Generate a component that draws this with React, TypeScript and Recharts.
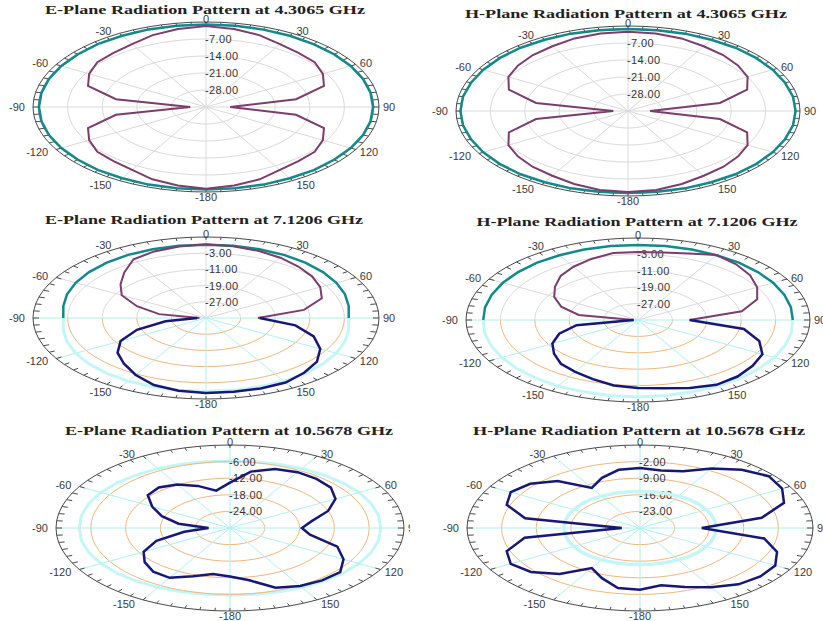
import React from 'react';
import { ScatterChart, Scatter, XAxis, YAxis } from 'recharts';

// angles in degrees, clockwise from the top (0 = boresight)
const ANGLES = [0, 10, 20, 30, 40, 50, 60, 70, 80, 90, 100, 110, 120, 130, 140, 150, 160, 170,
  180, 190, 200, 210, 220, 230, 240, 250, 260, 270, 280, 290, 300, 310, 320, 330, 340, 350];
const UPPER_ANGLES = [-90, -80, -70, -60, -50, -40, -30, -20, -10, 0, 10, 20, 30, 40, 50, 60, 70, 80, 90];
const LOWER_ANGLES = [90, 100, 110, 120, 130, 140, 150, 160, 170, 180, 190, 200, 210, 220, 230, 240, 250, 260, 270];
const ANGLE_TICKS = [0, 30, 60, 90, 120, 150, -180, -150, -120, -90, -60, -30];

// gain in dB
const E43_TEAL = [-1.0, -1.0, -1.1, -1.1, -1.2, -1.2, -1.2, -1.2, -1.2, -1.2, -1.2, -1.2, -1.2, -1.2, -1.1, -1.1, -1.0, -1.0,
  -1.0, -1.0, -1.0, -1.1, -1.1, -1.2, -1.2, -1.2, -1.2, -1.2, -1.2, -1.2, -1.2, -1.2, -1.1, -1.1, -1.0, -1.0];
const E43_PURPLE = [-1.7, -2.4, -3.5, -5.1, -5.9, -6.3, -7.7, -9.6, -16.5, -30.1, -16.5, -9.6, -7.7, -6.3, -5.9, -5.1, -3.3, -2.2,
  -1.3, -2.2, -3.3, -5.1, -5.9, -6.3, -7.7, -9.6, -16.5, -31.8, -16.5, -9.6, -7.7, -6.3, -5.9, -5.1, -3.5, -2.4];
const H43_TEAL = [-1.2, -1.2, -1.1, -1.1, -1.0, -1.0, -1.0, -1.0, -0.9, -0.9, -0.9, -1.0, -1.0, -1.0, -1.0, -1.1, -1.1, -1.2,
  -1.2, -1.2, -1.1, -1.1, -1.0, -1.0, -1.0, -1.0, -0.9, -0.9, -0.9, -1.0, -1.0, -1.0, -1.0, -1.1, -1.1, -1.2];
const H43_PURPLE = [-2.4, -2.6, -3.2, -4.2, -4.9, -5.8, -6.9, -9.2, -16.0, -30.5, -16.0, -9.2, -6.9, -5.8, -4.9, -4.2, -3.0, -2.0,
  -1.6, -2.0, -3.0, -4.2, -4.9, -5.8, -6.9, -9.2, -16.0, -32.0, -16.0, -9.2, -6.9, -5.8, -4.9, -4.2, -3.2, -2.6];

const E71_TEAL = [-2.0, -1.5, -0.8, -0.2, 0.3, 0.7, 1.0, 1.1, 1.2, 1.2, 1.2, 1.1, 1.0, 0.7, 0.3, -0.2, -0.8, -1.5, -2.0];
const E71_PURPLE = [-33.5, -24, -18, -12.5, -9.2, -5.6, -1.5, 0, 0.8, 1.4, 1.0, 0.3, -0.6, -1.8, -3.0, -4.5, -6.5, -12, -23];
const E71_CYAN = [-2.0, -1.5, -0.8, -0.2, 0.3, 0.7, 1.0, 1.1, 1.2, 1.2, 1.2, 1.1, 1.0, 0.7, 0.3, -0.2, -0.8, -1.5, -2.0];
const E71_NAVY = [-22.6, -14, -8.5, -4.5, -1.5, 0.3, 1.8, 2.0, 2.0, 2.0, 1.5, 0.2, -2.5, -5.5, -8.3, -12.2, -18, -25.5, -33];

const H71_TEAL = [1.0, 1.1, 1.2, 1.3, 1.4, 1.5, 1.5, 1.6, 1.6, 1.6, 1.6, 1.6, 1.5, 1.5, 1.4, 1.3, 1.2, 1.1, 1.0];
const H71_PURPLE = [-34, -21, -16, -12.5, -9.8, -7, -5, -3.3, -1.8, -1.8, -1.6, -0.5, 1.6, 0.5, -1, -3, -5.5, -10.5, -23];
const H71_CYAN = [1.0, 1.2, 1.4, 1.6, 1.8, 2.0, 2.2, 2.3, 2.4, 2.5, 2.4, 2.3, 2.2, 2.0, 1.8, 1.6, 1.4, 1.2, 1.0];
const H71_NAVY = [-23, -10, -5, -1.6, -0.2, 1.0, 1.5, 0.3, -1.2, -1.8, -2.6, -4.3, -5.8, -7.1, -9.5, -12, -15.5, -20.5, -34];

const E105_CYAN = [-5.8, -5.7, -5.5, -5.2, -4.9, -4.6, -4.3, -4.1, -4.0, -4.0, -4.0, -4.1, -4.3, -4.6, -4.9, -5.2, -5.5, -5.7,
  -5.8, -5.7, -5.5, -5.2, -4.9, -4.6, -4.3, -4.1, -4.0, -4.0, -4.0, -4.1, -4.3, -4.6, -4.9, -5.2, -5.5, -5.7];
const E105_NAVY = [-13.6, -9.3, -7.3, -6.7, -6.8, -7.3, -9.0, -12.0, -15.7, -17.6, -16.0, -10.3, -7.4, -5.2, -5.3, -5.8, -7.0, -10.8,
  -12.5, -13.1, -11.4, -9.2, -9.4, -10.8, -12.8, -16.5, -22.0, -26.3, -21.0, -17.5, -14.5, -11.5, -10.9, -11.8, -13.8, -16.3];
const H105_CYAN = [-14.6, -14.6, -14.5, -14.5, -14.4, -14.4, -14.5, -14.5, -14.6, -14.6, -14.6, -14.5, -14.5, -14.4, -14.4, -14.5, -14.5, -14.6,
  -14.6, -14.6, -14.5, -14.5, -14.4, -14.4, -14.5, -14.5, -14.6, -14.6, -14.6, -14.5, -14.5, -14.4, -14.4, -14.5, -14.5, -14.6];
const H105_NAVY = [-4.7, -5.4, -4.5, -1.0, 2.0, 4.0, 3.2, 1.0, -5.0, -17.5, -4.5, -0.5, 1.6, 1.8, 1.0, -1.2, -3.5, -5.5,
  -4.0, -4.3, -7.5, -10.5, -4.7, -1.2, 0.2, -1.3, -6.3, -26.3, -6.4, -1.3, 0.2, -1.0, -4.1, -10.5, -7.5, -5.1];

const RINGS_43 = [-7, -14, -21, -28];
const RINGS_71 = [-3, -11, -19, -27];
const RINGS_E105 = [-6, -12, -18, -24];
const RINGS_H105 = [-2, -9, -16, -23];

const TEAL = '#12898a';
const PURPLE = '#7c3d6c';
const NAVY = '#171777';
const LIGHT_CYAN = '#c4f6f6';
const GREY = '#dadada';
const ORANGE = '#f0b67c';
const CYAN = '#b0f0f0';
const AXIS = '#4a4a4a';

const FONT = '"Liberation Sans", Arial, sans-serif';

type Series = { angles: number[]; values: number[]; color: string; width: number; closed: boolean; under?: boolean };
type PanelSpec = {
  left: number; top: number; width: number; height: number;
  cx: number; cy: number; rx: number; ry: number;
  min: number; max: number; rings: number[];
  upper: { ring: string; spoke: string }; lower: { ring: string; spoke: string };
  band: boolean; series: Series[];
};

const toRad = (d: number) => (d * Math.PI) / 180;

function arc(r: number, from: number, to: number) {
  const pts = [];
  for (let a = from; a <= to; a += 5) pts.push({ x: r * Math.sin(toRad(a)), y: r * Math.cos(toRad(a)), angle: a });
  return pts;
}

function polar(s: Series, min: number, max: number) {
  const pts = s.angles.map((a, i) => {
    const r = Math.max(0, (s.values[i] - min) / (max - min));
    return { x: r * Math.sin(toRad(a)), y: r * Math.cos(toRad(a)) };
  });
  if (s.closed) pts.push(pts[0]);
  return pts;
}

const Blank = () => <g />;

const PANELS: PanelSpec[] = [
  {
    left: 0, top: 0, width: 410, height: 205, cx: 206, cy: 107, rx: 173, ry: 85, min: -35, max: 0, rings: RINGS_43,
    upper: { ring: GREY, spoke: GREY }, lower: { ring: GREY, spoke: GREY }, band: true,
    series: [
      { angles: ANGLES, values: E43_TEAL, color: TEAL, width: 2.5, closed: true },
      { angles: ANGLES, values: E43_PURPLE, color: PURPLE, width: 2, closed: true },
    ],
  },
  {
    left: 410, top: 0, width: 413, height: 205, cx: 628, cy: 111, rx: 172, ry: 85, min: -35, max: 0, rings: RINGS_43,
    upper: { ring: GREY, spoke: GREY }, lower: { ring: GREY, spoke: GREY }, band: true,
    series: [
      { angles: ANGLES, values: H43_TEAL, color: TEAL, width: 2.5, closed: true },
      { angles: ANGLES, values: H43_PURPLE, color: PURPLE, width: 2, closed: true },
    ],
  },
  {
    left: 0, top: 205, width: 410, height: 210, cx: 206, cy: 318, rx: 173, ry: 81, min: -35, max: 5, rings: RINGS_71,
    upper: { ring: GREY, spoke: GREY }, lower: { ring: ORANGE, spoke: CYAN }, band: false,
    series: [
      { angles: LOWER_ANGLES, values: E71_CYAN, color: LIGHT_CYAN, width: 3, closed: false },
      { angles: UPPER_ANGLES, values: E71_TEAL, color: TEAL, width: 2.5, closed: false },
      { angles: UPPER_ANGLES, values: E71_PURPLE, color: PURPLE, width: 2, closed: false },
      { angles: LOWER_ANGLES, values: E71_NAVY, color: NAVY, width: 2.5, closed: false },
    ],
  },
  {
    left: 410, top: 205, width: 413, height: 210, cx: 638, cy: 320, rx: 172, ry: 82, min: -35, max: 5, rings: RINGS_71,
    upper: { ring: GREY, spoke: GREY }, lower: { ring: ORANGE, spoke: CYAN }, band: false,
    series: [
      { angles: LOWER_ANGLES, values: H71_CYAN, color: LIGHT_CYAN, width: 3, closed: false },
      { angles: UPPER_ANGLES, values: H71_TEAL, color: TEAL, width: 2.5, closed: false },
      { angles: UPPER_ANGLES, values: H71_PURPLE, color: PURPLE, width: 2, closed: false },
      { angles: LOWER_ANGLES, values: H71_NAVY, color: NAVY, width: 2.5, closed: false },
    ],
  },
  {
    left: 0, top: 415, width: 410, height: 206, cx: 230, cy: 528, rx: 174, ry: 83, min: -30, max: 0, rings: RINGS_E105,
    upper: { ring: ORANGE, spoke: CYAN }, lower: { ring: ORANGE, spoke: CYAN }, band: false,
    series: [
      { angles: ANGLES, values: E105_CYAN, color: LIGHT_CYAN, width: 3, closed: true, under: true },
      { angles: ANGLES, values: E105_NAVY, color: NAVY, width: 2.5, closed: true },
    ],
  },
  {
    left: 410, top: 415, width: 413, height: 206, cx: 640, cy: 528, rx: 173, ry: 83, min: -30, max: 5, rings: RINGS_H105,
    upper: { ring: ORANGE, spoke: CYAN }, lower: { ring: ORANGE, spoke: CYAN }, band: false,
    series: [
      { angles: ANGLES, values: H105_CYAN, color: LIGHT_CYAN, width: 3.5, closed: true },
      { angles: ANGLES, values: H105_NAVY, color: NAVY, width: 2.5, closed: true },
    ],
  },
];

const TITLES = [
  { text: 'E-Plane Radiation Pattern at 4.3065 GHz', x: 205, y: 14, len: 320 },
  { text: 'H-Plane Radiation Pattern at 4.3065 GHz', x: 626, y: 18, len: 322 },
  { text: 'E-Plane Radiation Pattern at 7.1206 GHz', x: 204, y: 224, len: 318 },
  { text: 'H-Plane Radiation Pattern at 7.1206 GHz', x: 637, y: 226, len: 321 },
  { text: 'E-Plane Radiation Pattern at 10.5678 GHz', x: 229, y: 435, len: 328 },
  { text: 'H-Plane Radiation Pattern at 10.5678 GHz', x: 639, y: 435, len: 332 },
];

function Panel({ p }: { p: PanelSpec }) {
  const cxL = p.cx - p.left;
  const cyL = p.cy - p.top;
  const xDomain = [-cxL / p.rx, (p.width - cxL) / p.rx];
  const yDomain = [-(p.height - cyL) / p.ry, cyL / p.ry];
  const span = p.max - p.min;

  const tickAngles = arc(1, 0, 355);
  const tickLen = p.band ? 0.03 : 0.035;
  const TickShape = (props: any) => {
    const { cx, cy, payload } = props;
    const t = toRad(payload.angle);
    return (
      <line x1={cx} y1={cy} x2={cx - tickLen * Math.sin(t) * p.rx} y2={cy + tickLen * Math.cos(t) * p.ry}
        stroke={AXIS} strokeWidth={1} />
    );
  };
  const AngleLabel = (props: any) => {
    const { cx, cy, payload } = props;
    const t = toRad(payload.angle);
    const s = Math.sin(t);
    const c = Math.cos(t);
    const anchor = s > 0.1 ? 'start' : s < -0.1 ? 'end' : 'middle';
    const x = cx + (s > 0.1 ? 4 : s < -0.1 ? -8 : 0);
    const y = cy - c * (c > 0 ? 3 : 4.5);
    return (
      <text x={x} y={y} textAnchor={anchor} dominantBaseline="central" fontSize={11}
        fontFamily={FONT} fill="#3a3a3a">{payload.label}</text>
    );
  };
  const RingLabel = (props: any) => {
    const { cx, cy, payload } = props;
    return (
      <text x={cx - 1} y={cy} textAnchor="start" dominantBaseline="central" fontSize={11} letterSpacing={0.4}
        fontFamily={FONT} fill="#333">{payload.label}</text>
    );
  };

  const spokes = [0, 30, 60, 90, 120, 150, 180, 210, 240, 270, 300, 330];
  const upperSpokes = spokes.filter((a) => Math.cos(toRad(a)) > 0.01);
  const lowerSpokes = spokes.filter((a) => Math.cos(toRad(a)) <= 0.01);
  const under = p.series.filter((s) => s.under);
  const over = p.series.filter((s) => !s.under);

  return (
    <div style={{ position: 'absolute', left: p.left, top: p.top, width: p.width, height: p.height, overflow: 'hidden' }}>
      <ScatterChart width={p.width} height={p.height} margin={{ top: 0, right: 0, bottom: 0, left: 0 }}>
        <XAxis type="number" dataKey="x" domain={xDomain} hide allowDataOverflow />
        <YAxis type="number" dataKey="y" domain={yDomain} hide allowDataOverflow />
        {under.map((s, i) => (
          <Scatter key={`u${i}`} data={polar(s, p.min, p.max)} line={{ stroke: s.color, strokeWidth: s.width }}
            shape={Blank} isAnimationActive={false} />
        ))}
        {p.rings.map((v) => (
          <Scatter key={`ru${v}`} data={arc((v - p.min) / span, -90, 90)} line={{ stroke: p.upper.ring, strokeWidth: 1 }}
            shape={Blank} isAnimationActive={false} />
        ))}
        {p.rings.map((v) => (
          <Scatter key={`rl${v}`} data={arc((v - p.min) / span, 90, 270)} line={{ stroke: p.lower.ring, strokeWidth: 1 }}
            shape={Blank} isAnimationActive={false} />
        ))}
        {upperSpokes.map((a) => (
          <Scatter key={`su${a}`} data={[{ x: 0, y: 0 }, { x: Math.sin(toRad(a)), y: Math.cos(toRad(a)) }]}
            line={{ stroke: p.upper.spoke, strokeWidth: 1 }} shape={Blank} isAnimationActive={false} />
        ))}
        {lowerSpokes.map((a) => (
          <Scatter key={`sl${a}`} data={[{ x: 0, y: 0 }, { x: Math.sin(toRad(a)), y: Math.cos(toRad(a)) }]}
            line={{ stroke: p.lower.spoke, strokeWidth: 1 }} shape={Blank} isAnimationActive={false} />
        ))}
        {p.band && (
          <Scatter data={arc(0.97, 0, 360)} line={{ stroke: '#9a9a9a', strokeWidth: 1 }} shape={Blank}
            isAnimationActive={false} />
        )}
        <Scatter data={arc(1, 0, 360)} line={{ stroke: AXIS, strokeWidth: 1 }} shape={Blank} isAnimationActive={false} />
        <Scatter data={tickAngles} shape={TickShape} isAnimationActive={false} />
        <Scatter data={p.rings.map((v) => ({ x: 0, y: (v - p.min) / span, label: v.toFixed(2) }))}
          shape={RingLabel} isAnimationActive={false} />
        <Scatter data={ANGLE_TICKS.map((a) => ({ x: Math.sin(toRad(a)), y: Math.cos(toRad(a)), angle: a, label: String(a) }))}
          shape={AngleLabel} isAnimationActive={false} />
        {over.map((s, i) => (
          <Scatter key={`d${i}`} data={polar(s, p.min, p.max)} line={{ stroke: s.color, strokeWidth: s.width }}
            shape={Blank} isAnimationActive={false} />
        ))}
      </ScatterChart>
    </div>
  );
}

export default function App() {
  return (
    <div style={{ position: 'absolute', left: 0, top: 0, width: 823, height: 621, background: '#fff', overflow: 'hidden' }}>
      {PANELS.map((p, i) => (
        <Panel key={i} p={p} />
      ))}
      <svg width={823} height={621} style={{ position: 'absolute', left: 0, top: 0, pointerEvents: 'none' }}>
        {TITLES.map((t) => (
          <text key={t.text} x={t.x} y={t.y} textAnchor="middle" textLength={t.len} lengthAdjust="spacingAndGlyphs"
            fontFamily='"Liberation Serif", "Times New Roman", serif' fontWeight="bold" fontSize={13.5} fill="#222">
            {t.text}
          </text>
        ))}
      </svg>
    </div>
  );
}
